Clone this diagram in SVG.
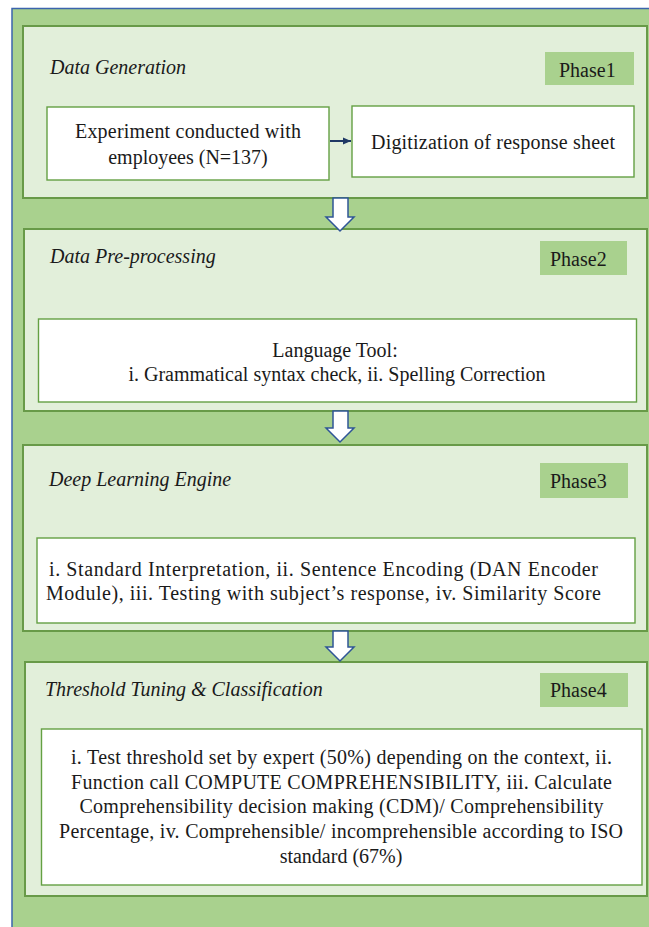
<svg xmlns="http://www.w3.org/2000/svg" width="649" height="927" viewBox="0 0 649 927">
<defs>
<style>
.outer{fill:#A9D18E;stroke:#3B64AD;stroke-width:1.5}
.panel{fill:#E2EFDA;stroke:#689A48;stroke-width:2}
.tag{fill:#A9D18E;stroke:none}
.box{fill:#FFFFFF;stroke:#64A043;stroke-width:1.4}
text{font-family:'Liberation Serif','DejaVu Serif',serif;font-size:20px;fill:#1a1a1a}
.h{font-style:italic}
.c{text-anchor:middle}
.down{fill:#FFFFFF;stroke:#2F5597;stroke-width:1.5;stroke-linejoin:miter}
</style>
<marker id="ah" viewBox="0 0 10 10" refX="10" refY="5" markerWidth="4" markerHeight="4" orient="auto">
<path d="M0,0.5 L10,5 L0,9.5 Z" fill="#1F3864"/>
</marker>
</defs>
<rect class="outer" x="12" y="8.5" width="700" height="1000"/>

<g id="phase1">
<rect class="panel" x="23" y="26" width="624" height="172"/>
<rect class="tag" x="545" y="52" width="89" height="33"/>
<text x="559" y="77">Phase1</text>
<text class="h" x="50" y="74">Data Generation</text>
</g>
<g id="experiment">
<rect class="box" x="47" y="107" width="282" height="73"/>
<text class="c" x="188" y="138" textLength="226" lengthAdjust="spacing">Experiment conducted with</text>
<text class="c" x="188" y="164">employees (N=137)</text>
</g>
<g id="digitization">
<rect class="box" x="352" y="106" width="282" height="71"/>
<text class="c" x="493" y="149" textLength="244" lengthAdjust="spacing">Digitization of response sheet</text>
</g>

<g id="phase2">
<rect class="panel" x="24" y="229" width="623" height="182"/>
<rect class="tag" x="540" y="241" width="87" height="34"/>
<text x="550" y="266">Phase2</text>
<text class="h" x="50" y="263">Data Pre-processing</text>
</g>
<g id="languagetool">
<rect class="box" x="38.5" y="319" width="598" height="83"/>
<text class="c" x="335" y="357">Language Tool:</text>
<text class="c" x="337" y="381">i. Grammatical syntax check, ii. Spelling Correction</text>
</g>

<g id="phase3">
<rect class="panel" x="23" y="445" width="624" height="186"/>
<rect class="tag" x="540" y="463" width="88" height="35"/>
<text x="550" y="488">Phase3</text>
<text class="h" x="49" y="486">Deep Learning Engine</text>
</g>
<g id="deeplearning">
<rect class="box" x="37" y="538" width="598" height="85"/>
<text x="49" y="576" textLength="549" lengthAdjust="spacing">i. Standard Interpretation, ii. Sentence Encoding (DAN Encoder</text>
<text x="46" y="600" textLength="555" lengthAdjust="spacing">Module), iii. Testing with subject’s response, iv. Similarity Score</text>
</g>

<g id="phase4">
<rect class="panel" x="25" y="662" width="622" height="234"/>
<rect class="tag" x="540" y="673" width="88" height="34"/>
<text x="550" y="697">Phase4</text>
<text class="h" x="45" y="696">Threshold Tuning &amp; Classification</text>
</g>
<g id="threshold">
<rect class="box" x="41.5" y="729" width="600.5" height="156"/>
<text x="71" y="764" textLength="541" lengthAdjust="spacing">i. Test threshold set by expert (50%) depending on the context, ii.</text>
<text x="71" y="789" textLength="541" lengthAdjust="spacing">Function call COMPUTE COMPREHENSIBILITY, iii. Calculate</text>
<text x="79.5" y="813" textLength="524" lengthAdjust="spacing">Comprehensibility decision making (CDM)/ Comprehensibility</text>
<text x="59" y="838" textLength="564" lengthAdjust="spacing">Percentage, iv. Comprehensible/ incomprehensible according to ISO</text>
<text class="c" x="341" y="863">standard (67%)</text>
</g>

<g id="connectors">
<line x1="330" y1="141" x2="351" y2="141" stroke="#1F3864" stroke-width="2" marker-end="url(#ah)"/>
<path class="down" d="M333,198 L348,198 L348,217 L354,217 L340,231 L326,217 L333,217 Z"/>
<path class="down" d="M333,411 L348,411 L348,428 L354,428 L340,442 L326,428 L333,428 Z"/>
<path class="down" d="M333,631 L348,631 L348,647 L354,647 L340,661 L326,647 L333,647 Z"/>
</g>
</svg>
